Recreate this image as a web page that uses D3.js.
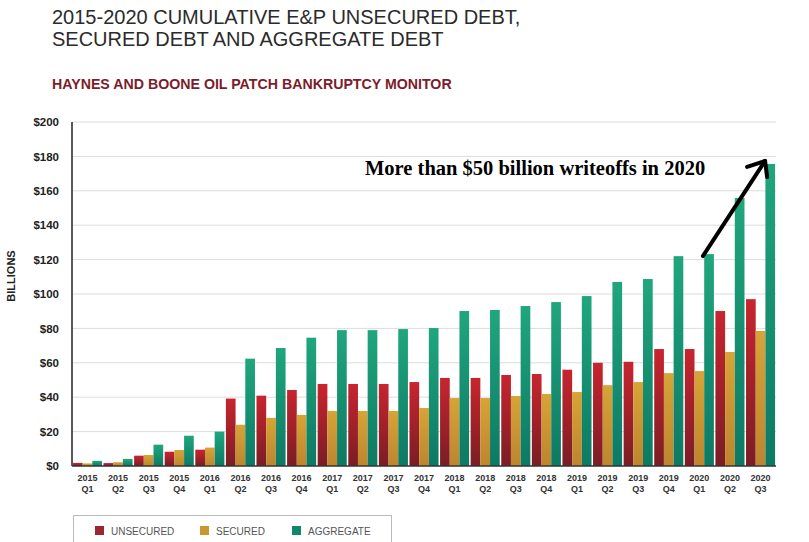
<!DOCTYPE html>
<html>
<head>
<meta charset="utf-8">
<script src="https://cdn.jsdelivr.net/npm/d3@7"></script>
<style>
  body { margin: 0; background: #fff; }
  svg { display: block; }
</style>
</head>
<body>
<svg id="chart" width="809" height="542"></svg>
<script>
// quarters
const years = ["2015","2015","2015","2015","2016","2016","2016","2016","2017","2017","2017","2017",
               "2018","2018","2018","2018","2019","2019","2019","2019","2020","2020","2020"];
const quarters = ["Q1","Q2","Q3","Q4","Q1","Q2","Q3","Q4","Q1","Q2","Q3","Q4",
                  "Q1","Q2","Q3","Q4","Q1","Q2","Q3","Q4","Q1","Q2","Q3"];
const unsecured = [1.8, 1.7, 6.0, 8.3, 9.5, 39.2, 40.9, 44.2, 47.7, 47.7, 47.7, 48.8,
                   51.2, 51.2, 52.9, 53.5, 56.0, 60.0, 60.6, 68.0, 68.0, 90.1, 97.0];
const secured = [1.5, 2.2, 6.4, 9.3, 10.7, 24.0, 28.0, 29.7, 32.0, 32.0, 32.0, 33.7,
                 39.5, 39.5, 40.7, 41.9, 43.0, 47.0, 48.8, 54.0, 55.2, 66.3, 78.5];
const aggregate = [3.0, 4.1, 12.4, 17.6, 20.0, 62.4, 68.6, 74.6, 79.0, 79.0, 79.6, 80.2,
                   90.1, 90.7, 93.0, 95.3, 98.8, 107.0, 108.7, 122.0, 123.2, 155.8, 175.6];
const seriesNames = ["UNSECURED", "SECURED", "AGGREGATE"];
const yTicks = [0, 20, 40, 60, 80, 100, 120, 140, 160, 180, 200];

const svg = d3.select("#chart");
const plotL = 72, plotR = 776, plotT = 122, plotB = 466;

const labels = years.map((y, i) => y + " " + quarters[i]);
const x = d3.scaleBand().domain(labels).range([plotL, plotR]).paddingInner(0.05).paddingOuter(0.03);
const xs = d3.scaleBand().domain(seriesNames).range([0, x.bandwidth()]).padding(0);
const y = d3.scaleLinear().domain([0, 200]).range([plotB, plotT]);

// gradients for the bars
const grads = [
  { id: "g-uns", top: "#c8252f", bot: "#7a1d25", legend: "#9a2630" },
  { id: "g-sec", top: "#d6a437", bot: "#be852e", legend: "#c9972f" },
  { id: "g-agg", top: "#20a67d", bot: "#0d7964", legend: "#10866a" }
];
const defs = svg.append("defs");
grads.forEach(g => {
  const lg = defs.append("linearGradient").attr("id", g.id)
    .attr("x1", 0).attr("y1", 0).attr("x2", 0).attr("y2", 1);
  lg.append("stop").attr("offset", "0%").attr("stop-color", g.top);
  lg.append("stop").attr("offset", "100%").attr("stop-color", g.bot);
});

// titles
svg.append("text").attr("x", 52).attr("y", 24)
  .style("font-family", "Liberation Sans, Arial, sans-serif").style("font-size", "20px")
  .style("fill", "#2b2b2b").text("2015-2020 CUMULATIVE E&P UNSECURED DEBT,");
svg.append("text").attr("x", 52).attr("y", 46)
  .style("font-family", "Liberation Sans, Arial, sans-serif").style("font-size", "20px")
  .style("fill", "#2b2b2b").text("SECURED DEBT AND AGGREGATE DEBT");
svg.append("text").attr("x", 52).attr("y", 89)
  .style("font-family", "Liberation Sans, Arial, sans-serif").style("font-size", "14.2px")
  .style("font-weight", "bold").style("fill", "#7b1d2b")
  .text("HAYNES AND BOONE OIL PATCH BANKRUPTCY MONITOR");

// gridlines
svg.append("g").selectAll("line").data(yTicks.slice(1)).join("line")
  .attr("x1", plotL).attr("x2", plotR)
  .attr("y1", d => y(d)).attr("y2", d => y(d))
  .attr("stroke", "#dcdcdc").attr("stroke-width", 1);

// y axis labels
const yAxis = svg.append("g").attr("transform", `translate(${plotL},0)`)
  .call(d3.axisLeft(y).tickValues(yTicks).tickSize(0).tickPadding(13).tickFormat(d => "$" + d));
yAxis.select(".domain").remove();
yAxis.selectAll("text")
  .style("font-family", "Liberation Sans, Arial, sans-serif").style("font-size", "11.5px")
  .style("font-weight", "bold").style("fill", "#222");

svg.append("text")
  .attr("transform", `translate(15,276) rotate(-90)`)
  .attr("text-anchor", "middle")
  .style("font-family", "Liberation Sans, Arial, sans-serif").style("font-size", "11px")
  .style("font-weight", "bold").style("fill", "#222").text("BILLIONS");

// bars
const rows = labels.map((l, i) => ({ label: l, values: [unsecured[i], secured[i], aggregate[i]] }));
const groups = svg.append("g").selectAll("g").data(rows).join("g")
  .attr("transform", d => `translate(${x(d.label)},0)`);
groups.selectAll("rect").data(d => d.values.map((v, k) => ({ k, v }))).join("rect")
  .attr("x", d => xs(seriesNames[d.k]))
  .attr("width", xs.bandwidth())
  .attr("y", d => y(d.v))
  .attr("height", d => y(0) - y(d.v))
  .attr("fill", d => `url(#${grads[d.k].id})`);

// axis lines
svg.append("line").attr("x1", plotL).attr("x2", plotL).attr("y1", plotT).attr("y2", plotB)
  .attr("stroke", "#222").attr("stroke-width", 1.5);
svg.append("line").attr("x1", plotL).attr("x2", plotR).attr("y1", plotB).attr("y2", plotB)
  .attr("stroke", "#333").attr("stroke-width", 1.5);

// x labels (two lines)
const xl = svg.append("g").selectAll("text").data(labels).join("text")
  .attr("x", d => x(d) + x.bandwidth() / 2)
  .attr("text-anchor", "middle")
  .style("font-family", "Liberation Sans, Arial, sans-serif").style("font-size", "9px")
  .style("font-weight", "bold").style("fill", "#333");
xl.append("tspan").attr("x", d => x(d) + x.bandwidth() / 2).attr("y", 481).text((d, i) => years[i]);
xl.append("tspan").attr("x", d => x(d) + x.bandwidth() / 2).attr("y", 492).text((d, i) => quarters[i]);

// annotation
svg.append("text").attr("x", 365).attr("y", 175)
  .style("font-family", "Liberation Serif, 'Times New Roman', serif").style("font-size", "20.5px")
  .style("font-weight", "bold").style("fill", "#000")
  .text("More than $50 billion writeoffs in 2020");

const last = labels.length - 1;
const ax0 = x(labels[last - 2]) + x.bandwidth() - 11, ay0 = y(aggregate[last - 2]) + 2;
const ax1 = x(labels[last]) + x.bandwidth() - 10, ay1 = y(aggregate[last]) - 3;
const arrow = svg.append("g").attr("stroke", "#000").attr("stroke-width", 4)
  .attr("stroke-linecap", "round").attr("fill", "none");
arrow.append("line").attr("x1", ax0).attr("y1", ay0).attr("x2", ax1).attr("y2", ay1);
arrow.append("path").attr("d", `M${ax1 - 18},${ay1 + 6} L${ax1},${ay1} L${ax1 + 2},${ay1 + 16}`)
  .attr("stroke-linejoin", "round");

// legend
svg.append("rect").attr("x", 73.5).attr("y", 515.5).attr("width", 318).attr("height", 40)
  .attr("fill", "none").attr("stroke", "#bbb").attr("stroke-width", 1);
const legendX = [95, 200, 292];
const lg = svg.append("g").selectAll("g").data(seriesNames).join("g")
  .attr("transform", (d, i) => `translate(${legendX[i]},526)`);
lg.append("rect").attr("width", 9).attr("height", 9).attr("fill", (d, i) => grads[i].legend);
lg.append("text").attr("x", 16).attr("y", 8.5)
  .style("font-family", "Liberation Sans, Arial, sans-serif").style("font-size", "10px")
  .style("fill", "#555").text(d => d);
</script>
</body>
</html>
